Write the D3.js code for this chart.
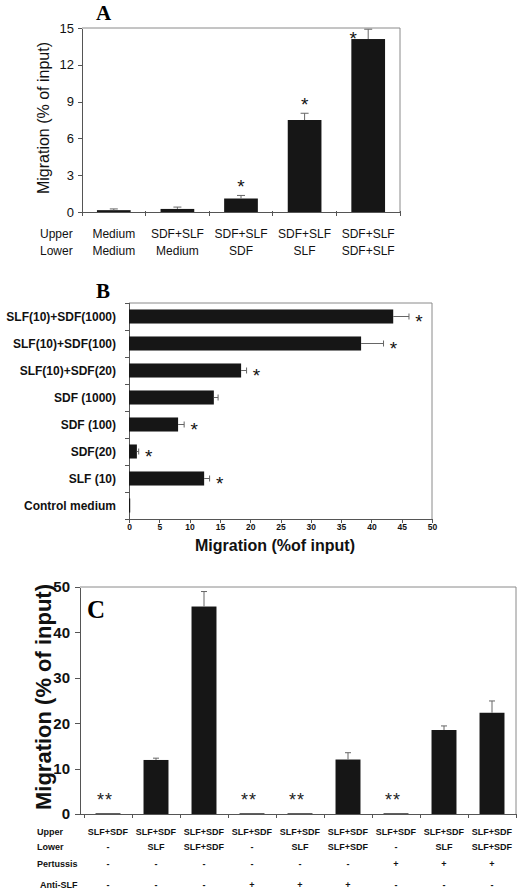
<!DOCTYPE html>
<html>
<head>
<meta charset="utf-8">
<script src="https://cdn.jsdelivr.net/npm/d3@7"></script>
<style>
	html, body { margin: 0; padding: 0; background: #fff; }
	svg { display: block; font-family: Arial, 'Liberation Sans', sans-serif; }
	.frame { fill: none; stroke: #8a8a8a; stroke-width: 1; }
	.axis path, .axis line { stroke: #555; stroke-width: 1; shape-rendering: crispEdges; }
	.bar { fill: #161616; }
	.err { stroke: #666; stroke-width: 1; fill: none; }
	.panel_title { font-family: 'Times New Roman', 'Liberation Serif', serif; font-weight: bold; }
</style>
</head>
<body>
<div id="chart"></div>
<script>
// panel A
const upperA = ['Medium', 'SDF+SLF', 'SDF+SLF', 'SDF+SLF', 'SDF+SLF'];
const lowerA = ['Medium', 'Medium', 'SDF', 'SLF', 'SDF+SLF'];
const valuesA = [0.15, 0.25, 1.1, 7.5, 14.1];
const errorsA = [0.1, 0.15, 0.25, 0.55, 0.8];
const starsA = ['', '', '*', '*', '*'];
const ticksA = [0, 3, 6, 9, 12, 15];

// panel B
const categoriesB = ['SLF(10)+SDF(1000)', 'SLF(10)+SDF(100)', 'SLF(10)+SDF(20)', 'SDF (1000)', 'SDF (100)', 'SDF(20)', 'SLF (10)', 'Control medium'];
const valuesB = [43.6, 38.3, 18.5, 14.0, 8.1, 1.3, 12.4, 0.2];
const errorsB = [2.6, 3.7, 0.9, 0.7, 1.0, 0.3, 0.9, 0];
const starsB = ['*', '*', '*', '', '*', '*', '*', ''];
const ticksB = [0, 5, 10, 15, 20, 25, 30, 35, 40, 45, 50];

// panel C
const upperC = ['SLF+SDF', 'SLF+SDF', 'SLF+SDF', 'SLF+SDF', 'SLF+SDF', 'SLF+SDF', 'SLF+SDF', 'SLF+SDF', 'SLF+SDF'];
const lowerC = ['-', 'SLF', 'SLF+SDF', '-', 'SLF', 'SLF+SDF', '-', 'SLF', 'SLF+SDF'];
const pertussisC = ['-', '-', '-', '-', '-', '-', '+', '+', '+'];
const antiSlfC = ['-', '-', '-', '+', '+', '+', '-', '-', '-'];
const valuesC = [0.15, 11.9, 45.7, 0.15, 0.15, 12.0, 0.15, 18.5, 22.3];
const errorsC = [0, 0.4, 3.3, 0, 0, 1.5, 0, 0.9, 2.6];
const starsC = ['**', '', '', '**', '**', '', '**', '', ''];
const ticksC = [0, 10, 20, 30, 40, 50];

const svg = d3.select('#chart').append('svg')
	.attr('width', 520)
	.attr('height', 890);

/* ---------------- A ---------------- */
(function() {
	const L = 82, R = 400, T = 28, B = 212;
	const idx = d3.range(valuesA.length);
	const x = d3.scaleBand().domain(idx).range([L, R]).paddingInner(0.47).paddingOuter(0.235);
	const y = d3.scaleLinear().domain([0, 15]).range([B, T]);
	const g = svg.append('g');

	g.append('text').classed('panel_title', true)
		.attr('x', 96).attr('y', 20).style('font-size', '21px').text('A');

	// frame
	g.append('path').classed('frame', true)
		.attr('d', `M${L},${T}H${R}V${B}`);

	g.append('g').classed('axis', true)
		.attr('transform', `translate(${L},0)`)
		.call(d3.axisLeft(y).tickValues(ticksA).tickSize(4).tickSizeOuter(0))
		.call(a => a.selectAll('text').style('font-size', '13px').attr('fill', '#111').attr('dx', '-1px'));

	// x axis with ticks at band boundaries
	const xa = g.append('g').classed('axis', true);
	xa.append('line').attr('x1', L).attr('x2', R).attr('y1', B).attr('y2', B);
	const step = (R - L) / idx.length;
	xa.selectAll('.bt').data(d3.range(idx.length + 1)).enter().append('line')
		.attr('x1', d => L + d * step).attr('x2', d => L + d * step)
		.attr('y1', B - 1).attr('y2', B + 4);

	g.selectAll('.bar').data(idx).enter().append('rect').classed('bar', true)
		.attr('x', i => x(i)).attr('width', x.bandwidth())
		.attr('y', i => y(valuesA[i])).attr('height', i => B - y(valuesA[i]));

	g.selectAll('.err').data(idx).enter().append('path').classed('err', true)
		.attr('d', i => {
			const cx = x(i) + x.bandwidth() / 2, y0 = y(valuesA[i]), y1 = y(valuesA[i] + errorsA[i]);
			return `M${cx},${y0}V${y1}M${cx - 4},${y1}H${cx + 4}`;
		});

	// stars: above error bar, or to the left if no room under the frame
	g.selectAll('.star').data(idx.filter(i => starsA[i])).enter().append('text')
		.attr('x', i => {
			const cx = x(i) + x.bandwidth() / 2;
			return y(valuesA[i] + errorsA[i]) - 14 < T + 8 ? cx - 15 : cx;
		})
		.attr('y', i => {
			const yt = y(valuesA[i] + errorsA[i]) - 12;
			return (yt < T + 8 ? T + 7 : yt) + 10;
		})
		.attr('text-anchor', 'middle').style('font-size', '19px').attr('fill', '#111')
		.text(i => starsA[i]);

	const lab = g.append('g').style('font-size', '12px').attr('fill', '#111');
	lab.append('text').attr('x', 40).attr('y', 238).text('Upper');
	lab.append('text').attr('x', 40).attr('y', 255).text('Lower');
	lab.selectAll('.up').data(idx).enter().append('text')
		.attr('x', i => x(i) + x.bandwidth() / 2).attr('y', 238).attr('text-anchor', 'middle')
		.text(i => upperA[i]);
	lab.selectAll('.lo').data(idx).enter().append('text')
		.attr('x', i => x(i) + x.bandwidth() / 2).attr('y', 255).attr('text-anchor', 'middle')
		.text(i => lowerA[i]);

	g.append('text')
		.attr('transform', 'translate(49,118) rotate(-90)')
		.attr('text-anchor', 'middle').style('font-size', '16px').attr('fill', '#111')
		.text('Migration (% of input)');
})();

/* ---------------- B ---------------- */
(function() {
	const L = 129, R = 432, T = 303, B = 519;
	const idx = d3.range(valuesB.length);
	const x = d3.scaleLinear().domain([0, 50]).range([L, R]);
	const y = d3.scaleBand().domain(idx).range([T, B]).paddingInner(0.48).paddingOuter(0.24);
	const g = svg.append('g');

	g.append('text').classed('panel_title', true)
		.attr('x', 96).attr('y', 298).style('font-size', '21px').text('B');

	g.append('path').classed('frame', true)
		.attr('d', `M${L},${T}H${R}V${B}`);

	const ya = g.append('g').classed('axis', true);
	ya.append('line').attr('x1', L).attr('x2', L).attr('y1', T).attr('y2', B);
	const step = (B - T) / idx.length;
	ya.selectAll('.bt').data(d3.range(idx.length + 1)).enter().append('line')
		.attr('x1', L - 4).attr('x2', L).attr('y1', d => T + d * step).attr('y2', d => T + d * step);

	g.append('g').classed('axis', true)
		.attr('transform', `translate(0,${B})`)
		.call(d3.axisBottom(x).tickValues(ticksB).tickSize(4).tickSizeOuter(0))
		.call(a => a.selectAll('text').style('font-size', '8.5px').style('font-weight', 'bold').attr('fill', '#111').attr('dy', '0.5em'));

	g.selectAll('.bar').data(idx).enter().append('rect').classed('bar', true)
		.attr('x', L).attr('y', i => y(i))
		.attr('width', i => x(valuesB[i]) - L).attr('height', y.bandwidth());

	g.selectAll('.err').data(idx.filter(i => errorsB[i] > 0)).enter().append('path').classed('err', true)
		.attr('d', i => {
			const cy = y(i) + y.bandwidth() / 2, x0 = x(valuesB[i]), x1 = x(valuesB[i] + errorsB[i]);
			return `M${x0},${cy}H${x1}M${x1},${cy - 3}V${cy + 3}`;
		});

	g.selectAll('.star').data(idx.filter(i => starsB[i])).enter().append('text')
		.attr('x', i => x(valuesB[i] + errorsB[i]) + 10)
		.attr('y', i => y(i) + y.bandwidth() / 2 + 11)
		.attr('text-anchor', 'middle').style('font-size', '19px').attr('fill', '#111')
		.text(i => starsB[i]);

	g.selectAll('.cat').data(idx).enter().append('text')
		.attr('x', 116).attr('y', i => y(i) + y.bandwidth() / 2 + 4)
		.attr('text-anchor', 'end').style('font-size', '12px').style('font-weight', 'bold').attr('fill', '#111')
		.text(i => categoriesB[i]);

	g.append('text')
		.attr('x', 275).attr('y', 551)
		.attr('text-anchor', 'middle').style('font-size', '16px').style('font-weight', 'bold').attr('fill', '#111')
		.text('Migration (%of input)');
})();

/* ---------------- C ---------------- */
(function() {
	const L = 80, R = 516, T = 587, B = 814;
	const idx = d3.range(valuesC.length);
	const x = d3.scaleBand().domain(idx).range([84, R]).paddingInner(0.48).paddingOuter(0.24);
	const y = d3.scaleLinear().domain([0, 50]).range([B, T]);
	const g = svg.append('g');

	g.append('path').classed('frame', true)
		.attr('d', `M${L},${T}H${R}V${B}`);

	g.append('g').classed('axis', true)
		.attr('transform', `translate(${L},0)`)
		.call(d3.axisLeft(y).tickValues(ticksC).tickSize(5).tickSizeOuter(0))
		.call(a => a.selectAll('text').style('font-size', '15px').style('font-weight', 'bold').attr('fill', '#111').attr('dx', '-2px'));

	const xa = g.append('g').classed('axis', true);
	xa.append('line').attr('x1', L).attr('x2', R).attr('y1', B).attr('y2', B);
	const step = (R - 84) / idx.length;
	xa.selectAll('.bt').data(d3.range(idx.length + 1)).enter().append('line')
		.attr('x1', d => 84 + d * step).attr('x2', d => 84 + d * step)
		.attr('y1', B).attr('y2', B + 4);

	g.append('text').classed('panel_title', true)
		.attr('x', 87).attr('y', 618).style('font-size', '25px').text('C');

	g.selectAll('.bar').data(idx).enter().append('rect').classed('bar', true)
		.attr('x', i => x(i)).attr('width', x.bandwidth())
		.attr('y', i => y(valuesC[i])).attr('height', i => B - y(valuesC[i]));

	g.selectAll('.err').data(idx.filter(i => errorsC[i] > 0)).enter().append('path').classed('err', true)
		.attr('d', i => {
			const cx = x(i) + x.bandwidth() / 2, y0 = y(valuesC[i]), y1 = y(valuesC[i] + errorsC[i]);
			return `M${cx},${y0}V${y1}M${cx - 3},${y1}H${cx + 3}`;
		});

	g.selectAll('.star').data(idx.filter(i => starsC[i])).enter().append('text')
		.attr('x', i => x(i) + x.bandwidth() / 2 - 3)
		.attr('y', B - 8)
		.attr('text-anchor', 'middle').style('font-size', '18px').style('letter-spacing', '1px').attr('fill', '#222')
		.text(i => starsC[i]);

	// treatment table
	const rows = [
		{ name: 'Upper', vals: upperC, y: 835, x: 37 },
		{ name: 'Lower', vals: lowerC, y: 850, x: 37 },
		{ name: 'Pertussis', vals: pertussisC, y: 867, x: 37 },
		{ name: 'Anti-SLF', vals: antiSlfC, y: 888, x: 40 }
	];
	const tb = g.append('g').style('font-size', '9px').style('font-weight', 'bold').attr('fill', '#111');
	rows.forEach(r => {
		tb.append('text').attr('x', r.x).attr('y', r.y).text(r.name);
		tb.selectAll(null).data(idx).enter().append('text')
			.attr('x', i => x(i) + x.bandwidth() / 2).attr('y', r.y).attr('text-anchor', 'middle')
			.text(i => r.vals[i]);
	});

	g.append('text')
		.attr('transform', 'translate(51,697) rotate(-90)')
		.attr('text-anchor', 'middle').style('font-size', '22px').style('font-weight', 'bold').attr('fill', '#111')
		.text('Migration (% of input)');
})();
</script>
</body>
</html>
